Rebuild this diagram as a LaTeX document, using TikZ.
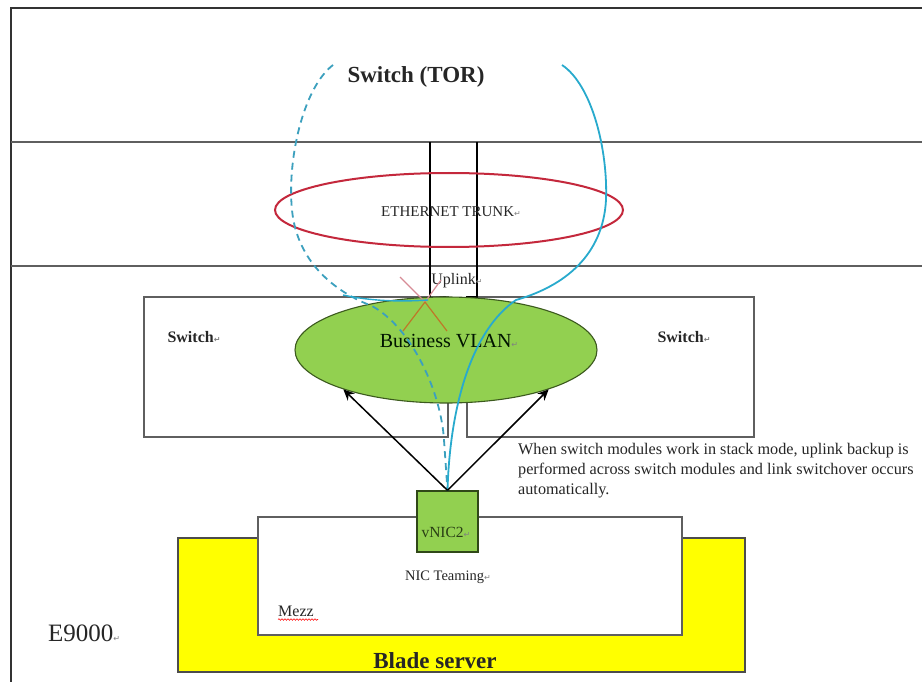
\documentclass[tikz,border=0pt]{standalone}
\usepackage{fontspec}
\setmainfont{Liberation Serif}
\newfontfamily\symfont{DejaVu Sans}
\usetikzlibrary{shapes.geometric,arrows.meta,decorations.pathmorphing}

\definecolor{boxgray}{RGB}{95,95,95}
\definecolor{vlangreen}{RGB}{146,208,80}
\definecolor{vlanedge}{RGB}{60,90,30}
\definecolor{trunkred}{RGB}{196,40,60}
\definecolor{linkblue}{RGB}{40,170,205}
\definecolor{dashblue}{RGB}{60,160,190}
\definecolor{crosspink}{RGB}{215,140,150}
\definecolor{crossorange}{RGB}{190,120,40}
\definecolor{bladeyellow}{RGB}{255,255,0}

% paragraph mark after word-processor labels
\newcommand{\pmk}{{\symfont\fontsize{8}{8}\selectfont\color{gray}↵}}
\newcommand{\fs}[1]{\fontsize{#1}{#1}\selectfont}

\tikzset{
  frameline/.style={draw=black!80, line width=1.1pt},
  sepline/.style={draw=boxgray, line width=1.1pt},
  switchbox/.style={draw=boxgray, line width=1.1pt, fill=white, rectangle, inner sep=0pt},
  trunkline/.style={draw=black, line width=1.4pt},
  lbl/.style={inner sep=0pt, text=black!85},
  uparrow/.style={draw=black, line width=1.5pt, -{Stealth[length=11pt,width=10pt]}},
  teamlink/.style={draw=linkblue, line width=1.8pt},
  teamdash/.style={draw=dashblue, line width=1.8pt, dash pattern=on 7pt off 5pt},
}

\begin{document}
\begin{tikzpicture}[x=1pt,y=-1pt]
\useasboundingbox (0,0) rectangle (922,682);
\clip (0,0) rectangle (922,682);
\fill[white] (0,0) rectangle (922,682);

% outer frame (top and left edges)
\coordinate (ftr) at (922,8);
\coordinate (ftl) at (11,8);
\coordinate (fbl) at (11,682);
\draw[frameline] (ftr) -- (ftl) -- (fbl);

% band holding the Ethernet trunk
\coordinate (s1l) at (11,142);  \coordinate (s1r) at (922,142);
\coordinate (s2l) at (11,266);  \coordinate (s2r) at (922,266);
\draw[sepline] (s1l) -- (s1r);
\draw[sepline] (s2l) -- (s2r);

% the two switch modules
\node[switchbox, minimum width=304pt, minimum height=140pt] (swl) at (296,367) {};
\node[switchbox, minimum width=287pt, minimum height=140pt] (swr) at (610.5,367) {};
\node[lbl, font=\bfseries\fs{16}] (swltxt) at (194,337) {Switch\pmk};
\node[lbl, font=\bfseries\fs{16}] (swrtxt) at (684,337) {Switch\pmk};

% trunk member links
\coordinate (t1a) at (430,142); \coordinate (t1b) at (430,298);
\coordinate (t2a) at (477,142); \coordinate (t2b) at (477,298);
\draw[trunkline] (t1a) -- (t1b);
\draw[trunkline] (t2a) -- (t2b);
\coordinate (k1a) at (432,298); \coordinate (k1b) at (446,297);
\coordinate (k2a) at (466,297); \coordinate (k2b) at (477,297);
\draw[trunkline] (k1a) -- (k1b);
\draw[trunkline] (k2a) -- (k2b);

% Ethernet trunk
\node[ellipse, draw=trunkred, line width=2pt, minimum width=348pt, minimum height=74pt, inner sep=0pt] (trunk) at (449,210) {};
\node[lbl, font=\fs{15}] (trunktxt) at (451,212) {ETHERNET TRUNK\pmk};

% business VLAN
\node[ellipse, draw=vlanedge, line width=1.1pt, fill=vlangreen, minimum width=302pt, minimum height=106pt, inner sep=0pt] (bvlan) at (446,350) {};
\node[lbl, font=\fs{20}, text=black!80!green!40!black] (bvlantxt) at (449,341) {Business VLAN\pmk};

% uplink label and the failed-link cross
\node[lbl, font=\fs{16}] (uplink) at (457,281) {Uplink\pmk};
\coordinate (xc) at (425,302);
\coordinate (xul) at (400,277); \coordinate (xur) at (441,280);
\coordinate (xll) at (403,331); \coordinate (xlr) at (447,331);
\draw[crosspink, line width=1.2pt] (xul) -- (xc) -- (xur);
\draw[crossorange, line width=1.2pt] (xll) -- (xc) -- (xlr);

% blade server and mezzanine card
\node[rectangle, draw=black!70, line width=1.2pt, fill=bladeyellow, minimum width=567pt, minimum height=134pt, inner sep=0pt] (blade) at (461.5,605) {};
\node[switchbox, minimum width=424pt, minimum height=118pt] (mezz) at (470,576) {};
\node[rectangle, draw=vlanedge!80!black, line width=1.3pt, fill=vlangreen, minimum width=61pt, minimum height=61pt, inner sep=0pt] (vnic) at (447.5,521.5) {};
\node[lbl, font=\fs{15.5}, text=vlanedge!70!black] (vnictxt) at (446,532) {vNIC2\pmk};
\node[lbl, font=\fs{14.5}] (teamtxt) at (448,577) {NIC Teaming\pmk};
\node[lbl, font=\fs{16}] (mezztxt) at (296,611) {Mezz};
\draw[red, line width=0.6pt, decorate, decoration={snake, amplitude=0.8pt, segment length=3pt}]
  (mezztxt.south west) ++(0,3) -- ++(40,0);
\node[lbl, font=\bfseries\fs{23}] (bladetxt) at (435,661) {Blade server};
\node[lbl, font=\fs{25}] (e9000) at (84,633) {E9000\pmk};

% teaming paths up through the stack
\coordinate (tor1) at (333,65);
\coordinate (tor2) at (562,65);
\draw[teamdash] (tor1) .. controls (303,88) and (287,160) .. (292,210)
  .. controls (297,262) and (335,292) .. (372,306)
  .. controls (412,328) and (441,392) .. (444,440) -- (vnic.north);
\draw[teamlink] (tor2) .. controls (592,85) and (608,150) .. (606,200)
  .. controls (603,255) and (565,286) .. (516,300)
  .. controls (472,330) and (450,405) .. (vnic.north);
\coordinate (arcA) at (343,295);
\coordinate (arcB) at (428,300);
\draw[teamlink, line width=1.4pt] (arcA) .. controls (370,301) and (400,302) .. (arcB);

% vNIC attachment to both switch modules
\draw[uparrow] (vnic.north) -- (bvlan.201);
\draw[uparrow] (vnic.north) -- (bvlan.-21);

% title
\node[lbl, font=\bfseries\fs{23}] (tor) at (416,77) {Switch (TOR)};

% note on stacked switch modules
\node[lbl, font=\fontsize{16.2}{20}\selectfont, anchor=north west, align=left] (note) at (518,443)
  {When switch modules work in stack mode, uplink backup is\\
   performed across switch modules and link switchover occurs\\
   automatically.};
\end{tikzpicture}
\end{document}
